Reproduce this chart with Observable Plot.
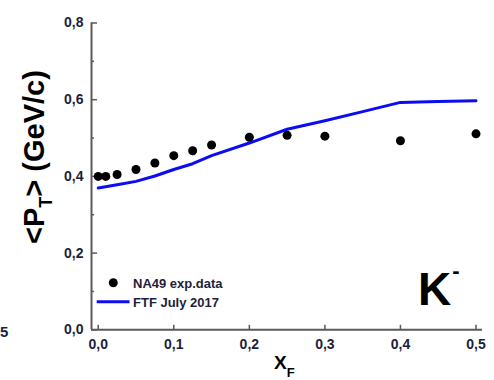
<!DOCTYPE html>
<html>
<head>
<meta charset="utf-8">
<script src="https://cdn.jsdelivr.net/npm/d3@7"></script>
<script src="https://cdn.jsdelivr.net/npm/@observablehq/plot@0.6"></script>
<style>
  html, body { margin: 0; padding: 0; background: #fff; }
  #chart svg { display: block; }
</style>
</head>
<body>
<div id="chart"></div>
<script>
// NA49 experimental data: <pT> of K- vs xF
const dataXF = [0, 0.01, 0.025, 0.05, 0.075, 0.1, 0.125, 0.15, 0.2, 0.25, 0.3, 0.4, 0.5];
const dataPT = [0.400, 0.400, 0.405, 0.418, 0.435, 0.454, 0.467, 0.482, 0.502, 0.507, 0.505, 0.493, 0.511];
// FTF July 2017 model
const ftfXF = [0, 0.025, 0.05, 0.075, 0.1, 0.125, 0.15, 0.2, 0.25, 0.3, 0.35, 0.4, 0.45, 0.5];
const ftfPT = [0.370, 0.378, 0.387, 0.401, 0.418, 0.433, 0.454, 0.487, 0.523, 0.545, 0.569, 0.593, 0.595, 0.597];
// axis ticks
const xTicks = [0, 0.1, 0.2, 0.3, 0.4, 0.5];
const yTicks = [0, 0.2, 0.4, 0.6, 0.8];
const yMinorTicks = [0.1, 0.3, 0.5, 0.7];
const xDomain = [-0.0089, 0.5086];
const yDomain = [0, 0.8];

const dataPts = dataXF.map((x, i) => ({x, y: dataPT[i]}));
const ftfPts = ftfXF.map((x, i) => ({x, y: ftfPT[i]}));

const fmt = d => d.toFixed(1).replace(".", ",");
const W = 494, H = 380;
const mL = 91, mR = 12, mT = 22.5, mB = 50.7;
const axisColor = "#5a5a5a";
const labelColor = "#1e1e3a";

const plot = Plot.plot({
  width: W, height: H,
  marginLeft: mL, marginRight: mR, marginTop: mT, marginBottom: mB,
  style: {fontFamily: "'Liberation Sans', Arial, sans-serif", background: "#fff", overflow: "visible"},
  x: {domain: xDomain},
  y: {domain: yDomain},
  marks: [
    // tick labels
    Plot.axisX(xTicks, {tickSize: 0, tickPadding: 9, tickFormat: fmt, fontSize: 14, fontWeight: "bold", fill: labelColor, label: null}),
    Plot.axisY(yTicks, {tickSize: 0, tickPadding: 8, tickFormat: fmt, fontSize: 14, fontWeight: "bold", fill: labelColor, label: null}),
    // inward ticks
    Plot.tickX(xTicks, {x: d => d, stroke: axisColor, strokeWidth: 1.5, insetTop: H - mT - mB - 4.5}),
    Plot.tickY(yTicks, {y: d => d, stroke: axisColor, strokeWidth: 1.5, insetRight: W - mL - mR - 6}),
    Plot.tickY(yMinorTicks, {y: d => d, stroke: axisColor, strokeWidth: 1.5, insetRight: W - mL - mR - 3}),
    // axis lines
    Plot.ruleY([0], {stroke: axisColor, strokeWidth: 2}),
    Plot.ruleX([xDomain[0]], {y1: 0, y2: 0.8, stroke: axisColor, strokeWidth: 2}),
    // model line
    Plot.line(ftfPts, {x: "x", y: "y", stroke: "#0c0cf2", strokeWidth: 3}),
    // data points
    Plot.dot(dataPts, {x: "x", y: "y", r: 4.5, fill: "#000", stroke: "none"})
  ]
});

document.getElementById("chart").appendChild(plot);

const svg = d3.select(plot);
const font = "'Liberation Sans', Arial, sans-serif";

// Y axis label with subscript
const yl = svg.append("text")
  .attr("transform", "translate(44,157) rotate(-90)")
  .attr("text-anchor", "middle")
  .attr("font-family", font).attr("font-weight", "bold").attr("font-size", 29)
  .attr("fill", "#000");
yl.append("tspan").text("<P");
yl.append("tspan").attr("font-size", 18).attr("dy", 8).text("T");
yl.append("tspan").attr("dy", -8).text("> (GeV/c)");

// X axis label with subscript
const xl = svg.append("text")
  .attr("x", 274).attr("y", 368.5).attr("text-anchor", "start")
  .attr("font-family", font).attr("font-weight", "bold").attr("font-size", 19)
  .attr("fill", "#000");
xl.append("tspan").text("X");
xl.append("tspan").attr("font-size", 13).attr("dy", 8).text("F");

// K- annotation
const kl = svg.append("text")
  .attr("x", 418).attr("y", 305).attr("text-anchor", "start")
  .attr("font-family", font).attr("font-weight", "bold").attr("font-size", 46)
  .attr("fill", "#000");
kl.append("tspan").text("K");
kl.append("tspan").attr("font-size", 22).attr("dy", -27).attr("dx", 1).text("-");

// Legend
svg.append("circle").attr("cx", 113.3).attr("cy", 282.7).attr("r", 4.5).attr("fill", "#000");
svg.append("text").attr("x", 133).attr("y", 287.5).attr("text-anchor", "start")
  .attr("font-family", font).attr("font-weight", "bold").attr("font-size", 13)
  .attr("fill", labelColor).text("NA49 exp.data");
svg.append("line").attr("x1", 96.7).attr("x2", 129.5).attr("y1", 301.7).attr("y2", 301.7)
  .attr("stroke", "#0c0cf2").attr("stroke-width", 3);
svg.append("text").attr("x", 133).attr("y", 306.5).attr("text-anchor", "start")
  .attr("font-family", font).attr("font-weight", "bold").attr("font-size", 13)
  .attr("fill", labelColor).text("FTF July 2017");

// cropped fragment from neighbouring panel
svg.append("text").attr("x", 0).attr("y", 337).attr("text-anchor", "start")
  .attr("font-family", font).attr("font-weight", "bold").attr("font-size", 15)
  .attr("fill", labelColor).text("5");
</script>
</body>
</html>
